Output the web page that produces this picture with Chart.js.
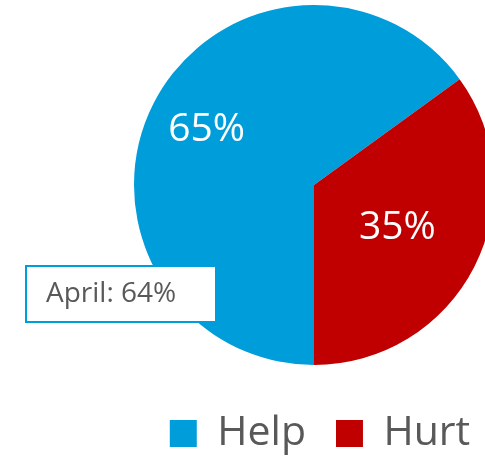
<!DOCTYPE html>
<html>
<head>
<meta charset="utf-8">
<script src="https://cdn.jsdelivr.net/npm/chart.js@4.4.1/dist/chart.umd.min.js"></script>
<style>
  html, body { margin: 0; padding: 0; width: 485px; height: 457px; overflow: hidden; background: #fff; }
  #wrap { position: absolute; left: 0; top: 0; }
</style>
</head>
<body>
<div id="wrap"><canvas id="myChart" width="628" height="464"></canvas></div>
<script>
'use strict';

//chart data
let categories = ['Help', 'Hurt'];
let shares = [65, 35];
let sliceColors = ['#009ddb', '#c00000'];

//previous month note
let noteMonth = 'April';
let noteValue = 64;

//how far out from the center each percent label sits (share of radius)
let labelRadius = [0.67, 0.52];

//draws the percent inside each slice
const sliceLabels = {
  id: 'sliceLabels',
  afterDatasetsDraw(chart) {
    let ctx = chart.ctx;
    let arcs = chart.getDatasetMeta(0).data;
    ctx.save();
    ctx.fillStyle = '#ffffff';
    ctx.font = '39px "Open Sans"';
    ctx.textAlign = 'center';
    ctx.textBaseline = 'middle';
    for (let i = 0; i < arcs.length; i++) {
      let arc = arcs[i].getProps(['x', 'y', 'startAngle', 'endAngle', 'outerRadius'], true);
      let mid = (arc.startAngle + arc.endAngle) / 2;
      let r = arc.outerRadius * labelRadius[i];
      ctx.fillText(`${shares[i]}%`, arc.x + Math.cos(mid) * r, arc.y + Math.sin(mid) * r);
    }
    ctx.restore();
  }
};

//boxed note on the left side of the pie
const noteBox = {
  id: 'noteBox',
  afterDraw(chart) {
    let ctx = chart.ctx;
    ctx.save();
    ctx.fillStyle = '#ffffff';
    ctx.fillRect(26, 266, 190, 56);
    ctx.strokeStyle = '#009ddb';
    ctx.lineWidth = 2;
    ctx.strokeRect(26, 266, 190, 56);
    ctx.fillStyle = '#595959';
    ctx.font = '28px "Open Sans"';
    ctx.textAlign = 'left';
    ctx.textBaseline = 'middle';
    ctx.fillText(`${noteMonth}: ${noteValue}%`, 46, 294);
    ctx.restore();
  }
};

//nudge the legend a little right of the pie's center line
const legendShift = {
  id: 'legendShift',
  afterLayout(chart) {
    chart.legend.left += 6;
    chart.legend.right += 6;
  }
};

const ctx = document.getElementById('myChart');
new Chart(ctx, {
  type: 'pie',
  data: {
    labels: categories,
    datasets: [{
      data: shares,
      backgroundColor: sliceColors,
      borderWidth: 0
    }]
  },
  options: {
    responsive: false,
    animation: false,
    devicePixelRatio: 1,
    rotation: 180,
    layout: {
      padding: { top: 5 }
    },
    plugins: {
      tooltip: { enabled: false },
      legend: {
        position: 'bottom',
        title: {
          display: true,
          text: '',
          font: { size: 10, lineHeight: 1 },
          padding: { top: 8, bottom: 0 }
        },
        labels: {
          color: '#595959',
          font: { family: '"Open Sans"', size: 41 },
          boxWidth: 27,
          boxHeight: 27,
          padding: 30
        }
      }
    }
  },
  plugins: [sliceLabels, noteBox, legendShift]
});
</script>
</body>
</html>
